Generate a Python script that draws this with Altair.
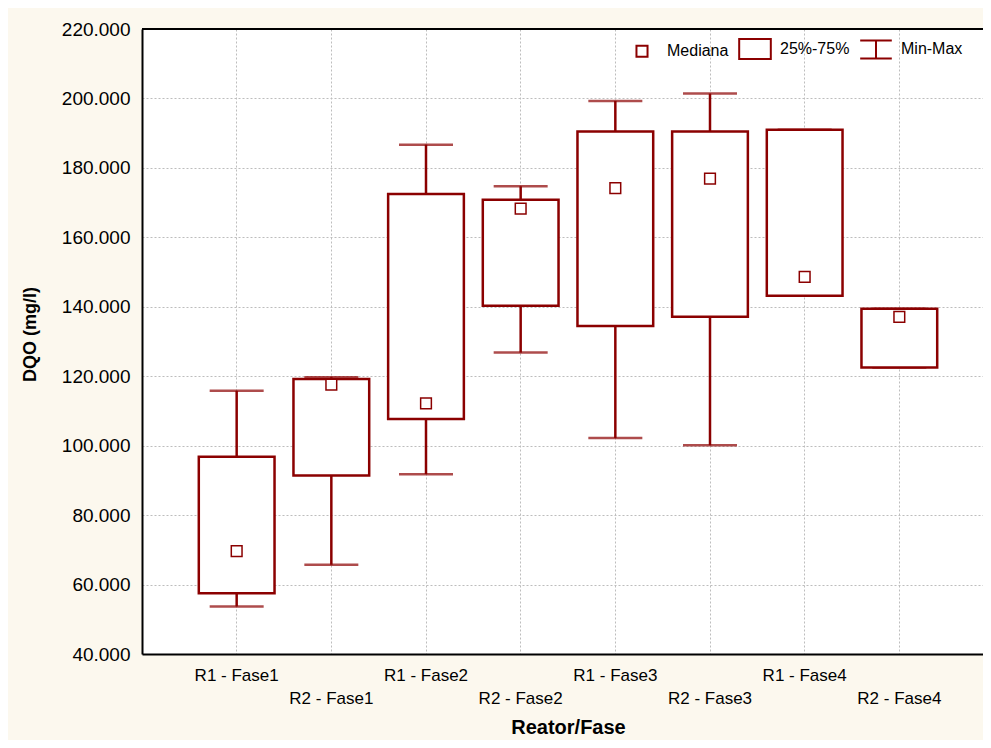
import altair as alt
import pandas as pd

# ---- data ----
categories = ["R1 - Fase1", "R2 - Fase1", "R1 - Fase2", "R2 - Fase2",
              "R1 - Fase3", "R2 - Fase3", "R1 - Fase4", "R2 - Fase4"]
mins = [53.7, 65.7, 91.8, 126.8, 102.2, 100.1, 143.2, 122.5]
q1s = [57.5, 91.4, 107.7, 140.3, 134.5, 137.1, 143.2, 122.5]
medians = [69.6, 117.6, 112.2, 168.3, 174.2, 176.9, 148.6, 137.1]
q3s = [96.8, 119.2, 172.5, 170.8, 190.5, 190.5, 191.0, 139.4]
maxs = [115.8, 119.7, 186.7, 174.7, 199.3, 201.4, 191.0, 139.4]
y_ticks = [40, 60, 80, 100, 120, 140, 160, 180, 200, 220]
y_top = 220
legend_items = ["Mediana", "25%-75%", "Min-Max"]

RED = "#8B0000"
CREAM = "#FCF8EE"
FONT = "Liberation Sans"

df = pd.DataFrame({"cat": categories, "min": mins, "q1": q1s,
                   "med": medians, "q3": q3s, "max": maxs})
leg_df = pd.DataFrame({"item": legend_items})

x_scale = alt.Scale(paddingInner=0.2, paddingOuter=0.6, range=[0, 852])
x_axis = alt.Axis(
    title="Reator/Fase", titleFont=FONT, titleFontSize=20, titleFontWeight="bold",
    titleColor="black", titleBaseline="alphabetic", titleY=79, titleX=426,
    labelFont=FONT, labelFontSize=17, labelColor="black", labelAngle=0,
    labelBaseline="top", labelPadding=13, labelLineHeight=23,
    labelExpr="indexof(datum.label, 'R2') == 0 ? ['', datum.label] : datum.label",
    ticks=False, domain=True, domainColor="black", domainWidth=2,
    grid=True, gridColor="#bdbdbd", gridDash=[2, 2], gridWidth=1, labelOverlap=False,
)
x_enc = alt.X("cat:N", sort=categories, scale=x_scale, axis=x_axis)

y_scale = alt.Scale(domain=[40, 220], nice=False, zero=False)
y_axis = alt.Axis(
    title="DQO (mg/l)", titleFont=FONT, titleFontSize=18, titleFontWeight="bold",
    titleColor="black", titleAngle=-90, titleBaseline="alphabetic", titleAlign="center",
    titleX=-107, titleY=305,
    values=y_ticks, format=".3f", labelFont=FONT, labelFontSize=19, labelColor="black",
    labelPadding=12, ticks=False, domain=True, domainColor="black", domainWidth=2,
    grid=True, gridColor="#bdbdbd", gridDash=[2, 2], gridWidth=1,
)

base = alt.Chart(df)

top_frame = alt.Chart(leg_df).mark_rule(color="black", strokeWidth=2).encode(
    y=alt.Y(datum=y_top, scale=y_scale, axis=y_axis))
whisk_lo = base.mark_rule(color=RED, strokeWidth=2.5).encode(
    x=x_enc, y=alt.Y("min:Q", scale=y_scale, axis=y_axis), y2="q1:Q")
whisk_hi = base.mark_rule(color=RED, strokeWidth=2.5).encode(
    x=x_enc, y=alt.Y("q3:Q", scale=y_scale, axis=y_axis), y2="max:Q")
cap_lo = base.mark_tick(color=RED, size=54, thickness=2.5).encode(
    x=x_enc, y=alt.Y("min:Q", scale=y_scale, axis=y_axis))
cap_hi = base.mark_tick(color=RED, size=54, thickness=2.5).encode(
    x=x_enc, y=alt.Y("max:Q", scale=y_scale, axis=y_axis))
boxes = base.mark_bar(fill="white", stroke=RED, strokeWidth=2.5).encode(
    x=x_enc, y=alt.Y("q1:Q", scale=y_scale, axis=y_axis), y2="q3:Q")
meds = base.mark_point(shape="square", size=115, filled=False, fill="white",
                       stroke=RED, strokeWidth=1.5, opacity=1).encode(
    x=x_enc, y=alt.Y("med:Q", scale=y_scale, axis=y_axis))

legend_paths = [
    "M-0.35,-0.35H0.35V0.35H-0.35Z",
    "M-1,-0.63H1V0.63H-1Z",
    "M-1,-0.57H1M0,-0.57V0.57M-1,0.57H1",
]
legend_layer = alt.Chart(leg_df).mark_point(
    clip=True, filled=False, color=RED, strokeWidth=2, opacity=1
).encode(
    x=alt.value(-60), y=alt.value(-60),
    shape=alt.Shape(
        "item:N", sort=legend_items,
        scale=alt.Scale(domain=legend_items, range=legend_paths),
        legend=alt.Legend(
            title=None, orient="none", legendX=483, legendY=3, direction="horizontal",
            symbolSize=1000, symbolStrokeWidth=2, labelFont=FONT, labelFontSize=16,
            labelColor="black", labelOffset=8, columnPadding=6, padding=0,
        ),
    ),
)

chart = alt.layer(whisk_lo, whisk_hi, cap_lo, cap_hi, boxes, meds, top_frame,
                  legend_layer).properties(
    width=841, height=625,
    autosize=alt.AutoSizeParams(type="none"),
    padding={"left": 134, "top": 21, "right": 0, "bottom": 86},
    background=CREAM,
).configure_view(fill="white", stroke=None)

chart.save("out.html", embed_options={"renderer": "svg", "actions": False})
